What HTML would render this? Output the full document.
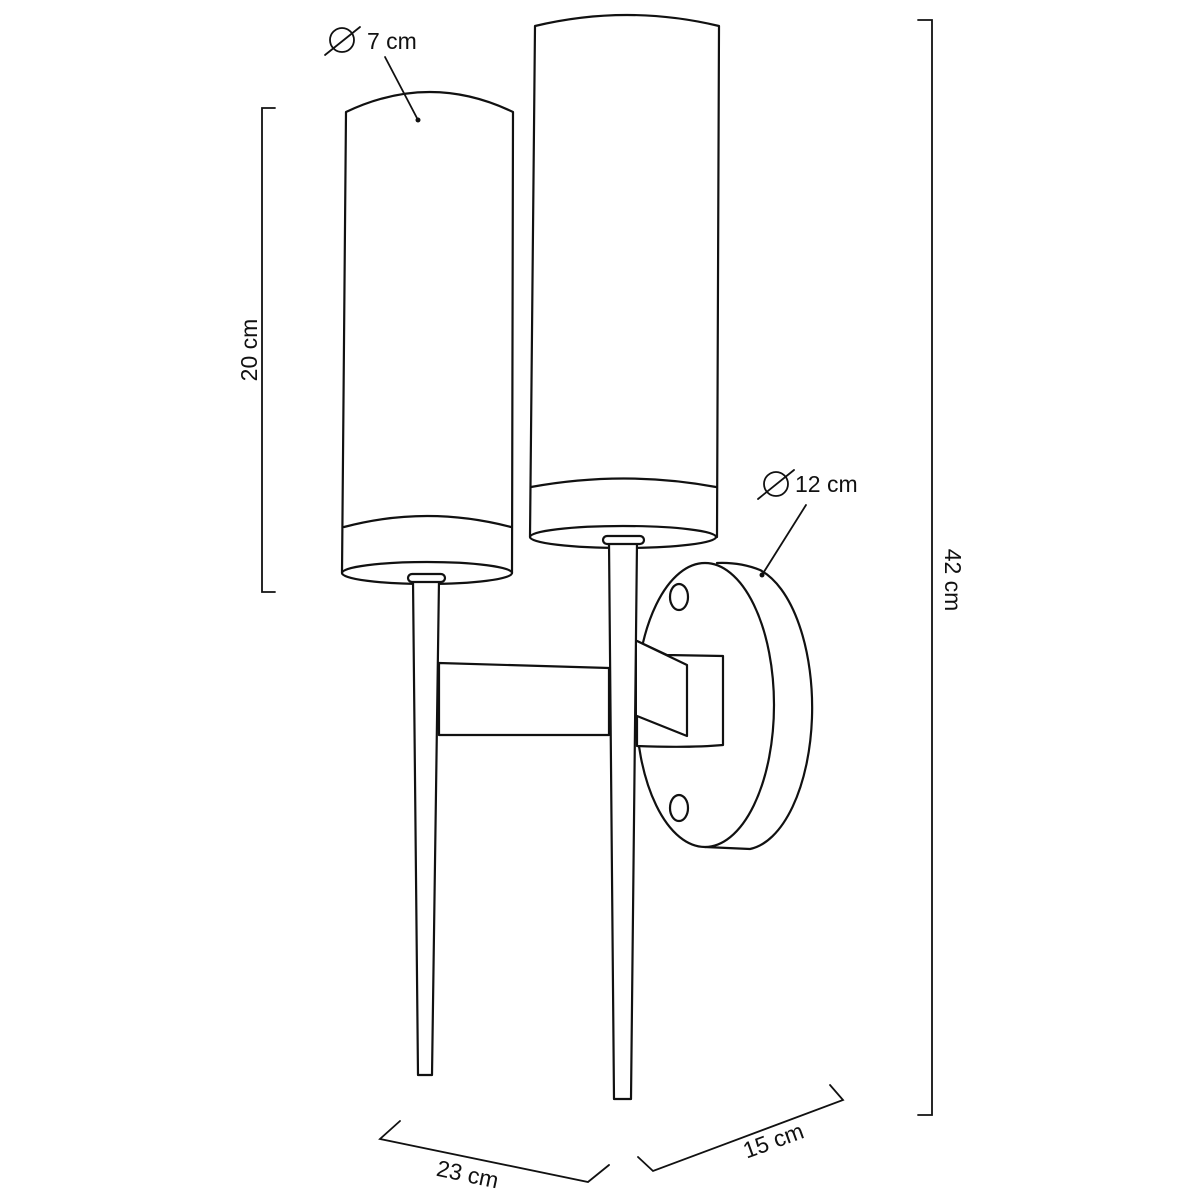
<!DOCTYPE html>
<html><head><meta charset="utf-8"><style>
html,body{margin:0;padding:0;background:#fff}
svg{display:block}
text{font-family:"Liberation Sans",sans-serif;font-size:23px;fill:#111}
</style></head><body>
<svg width="1200" height="1200" viewBox="0 0 1200 1200" xmlns="http://www.w3.org/2000/svg">
<g fill="#fff" stroke="#111" stroke-width="2.2" stroke-linejoin="round" stroke-linecap="round">
<!-- back plate -->
<path d="M717,563 Q740,562 760,570 A69,142 0 0 1 750,849 L705,847"/>
<ellipse cx="705" cy="705" rx="69" ry="142"/>
<ellipse cx="679" cy="597" rx="9" ry="13"/>
<ellipse cx="679" cy="808" rx="9" ry="13"/>
<!-- bracket -->
<path d="M667,655 L723,656 L723,745 Q690,748 637,746 L637,641 Z"/>
<path d="M637,641 L687,665 L687,736 L637,716"/>
<!-- arm -->
<path d="M439,663 L609,668 L609,735 L439,735 Z"/>
<!-- left shade -->
<path d="M346,112 Q430,72 513,112 L512,573 L342,573 Z"/>
<path d="M344,527 Q427,505 511,527" fill="none"/>
<ellipse cx="427" cy="573" rx="85" ry="11"/>
<!-- left stem -->
<path d="M413,580 L439,580 L432,1075 L418,1075 Z"/>
<rect x="408" y="574" width="37" height="8" rx="4"/>
<!-- right shade -->
<path d="M535,26 Q627,4 719,26 L717,537 L530,537 Z"/>
<path d="M531,487 Q624,470 716,487" fill="none"/>
<ellipse cx="623" cy="537" rx="93" ry="11"/>
<!-- right stem -->
<path d="M609,542 L637,542 L631,1099 L614,1099 Z"/>
<rect x="603" y="536" width="41" height="8" rx="4"/>
</g>
<g fill="none" stroke="#111" stroke-width="1.8" stroke-linecap="round">
<path d="M275,108 L262,108 L262,592 L275,592"/>
<path d="M918,20 L932,20 L932,1115 L918,1115"/>
<path d="M400,1121 L380,1139 L588,1182 L609,1165"/>
<path d="M638,1157 L653,1171 L843,1100 L830,1085"/>
<path d="M385,57 L418,120"/>
<path d="M806,505 L762,575"/>
<circle cx="342" cy="40" r="12"/>
<path d="M325,55 L360,27"/>
<circle cx="776" cy="484" r="12"/>
<path d="M758,499 L794,470"/>
</g>
<circle cx="418" cy="120" r="2.5" fill="#111"/>
<circle cx="762" cy="575" r="2.5" fill="#111"/>
<text x="367" y="49">7 cm</text>
<text x="795" y="492">12 cm</text>
<text transform="translate(257,350) rotate(-90)" text-anchor="middle">20 cm</text>
<text transform="translate(945,580) rotate(90)" text-anchor="middle">42 cm</text>
<text transform="translate(466,1182) rotate(12)" text-anchor="middle">23 cm</text>
<text transform="translate(776,1148) rotate(-20)" text-anchor="middle">15 cm</text>
</svg>
</body></html>
